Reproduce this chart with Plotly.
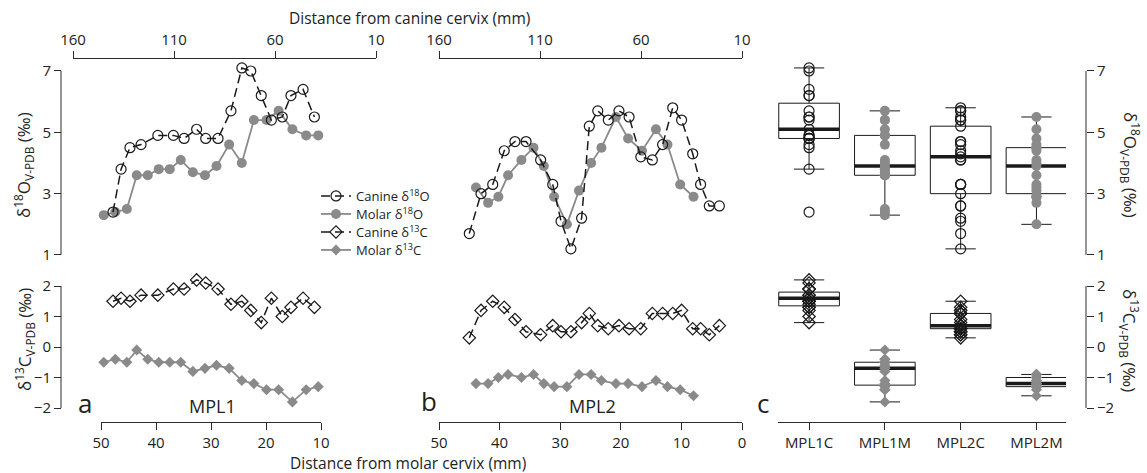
import numpy as np
import plotly.graph_objects as go

# ---------------- data ----------------
# MPL1
canine_mm_1 = [140.2, 136.2, 131.8, 126.3, 118.0, 110.3, 105.0, 98.8, 94.3, 88.2,
               81.8, 76.4, 72.0, 66.8, 61.8, 56.4, 52.1, 46.1, 40.5]
canine_d18O_1 = [2.4, 3.8, 4.5, 4.6, 4.9, 4.9, 4.8, 5.1, 4.8, 4.8,
                 5.7, 7.1, 7.0, 6.2, 5.4, 5.5, 6.2, 6.4, 5.5]
canine_d13C_1 = [1.5, 1.6, 1.5, 1.7, 1.7, 1.9, 1.9, 2.2, 2.1, 1.9,
                 1.4, 1.5, 1.2, 0.8, 1.6, 1.0, 1.3, 1.6, 1.3]
molar_mm_1 = [49.5, 47.4, 45.3, 43.5, 41.5, 39.5, 37.5, 35.5, 33.3, 31.1,
              29.0, 26.7, 24.4, 22.2, 19.9, 17.7, 15.2, 12.7, 10.5]
molar_d18O_1 = [2.3, 2.4, 2.5, 3.6, 3.6, 3.8, 3.8, 4.1, 3.7, 3.6,
                3.9, 4.6, 4.0, 5.4, 5.4, 5.7, 5.1, 4.9, 4.9]
molar_d13C_1 = [-0.5, -0.4, -0.5, -0.1, -0.4, -0.5, -0.5, -0.5, -0.8, -0.7,
                -0.6, -0.7, -1.1, -1.2, -1.4, -1.4, -1.8, -1.4, -1.3]

# MPL2
canine_mm_2 = [145.0, 139.2, 133.4, 127.7, 122.4, 116.9, 109.7, 103.7, 99.6, 94.7,
               89.4, 85.6, 81.4, 76.2, 70.9, 65.9, 60.1, 54.4, 49.3, 44.3,
               39.9, 34.4, 30.5, 26.2, 21.2]
canine_d18O_2 = [1.7, 3.0, 3.3, 4.4, 4.7, 4.7, 4.1, 3.3, 2.1, 1.2,
                 2.2, 5.2, 5.7, 5.4, 5.7, 5.5, 4.2, 4.1, 4.6, 5.8,
                 5.4, 4.3, 3.3, 2.6, 2.6]
canine_d13C_2 = [0.3, 1.2, 1.5, 1.3, 0.9, 0.5, 0.4, 0.7, 0.5, 0.5,
                 0.8, 1.1, 0.7, 0.6, 0.7, 0.6, 0.6, 1.1, 1.1, 1.1,
                 1.2, 0.6, 0.6, 0.4, 0.7]
molar_mm_2 = [43.9, 41.9, 40.2, 38.6, 36.4, 34.4, 32.7, 31.0, 28.9, 26.9,
              24.9, 23.2, 20.8, 18.8, 16.5, 14.2, 12.3, 10.2, 8.0]
molar_d18O_2 = [3.2, 2.7, 2.9, 3.6, 4.1, 4.5, 3.9, 2.9, 2.0, 3.1,
                4.0, 4.5, 5.5, 4.8, 4.4, 5.1, 4.6, 3.3, 2.9]
molar_d13C_2 = [-1.2, -1.2, -1.0, -0.9, -1.0, -0.9, -1.2, -1.3, -1.3, -0.9,
                -0.9, -1.1, -1.2, -1.2, -1.3, -1.1, -1.3, -1.4, -1.6]

box_labels = ['MPL1C', 'MPL1M', 'MPL2C', 'MPL2M']
canine_ticks = [160, 110, 60, 10]
molar_ticks_1 = [50, 40, 30, 20, 10]
molar_ticks_2 = [50, 40, 30, 20, 10, 0]
d18O_ticks = [1, 3, 5, 7]
d13C_ticks = [-2, -1, 0, 1, 2]

# ---------------- style ----------------
W, H = 1147, 473
def px(x): return x / W
def py(y): return 1 - y / H

BLACK = '#1a1a1a'
AX = '#2b2b2b'
GREY = '#8a8a8a'
FONT = 'Open Sans'

canine_line = dict(color=BLACK, width=1.5, dash='9px,5px')
molar_line = dict(color=GREY, width=1.8)

def canine_marker(sym):
    return dict(symbol=sym + '-open', size=10 if sym == 'circle' else 9.5,
                color=BLACK, line=dict(width=1.2, color=BLACK))

def molar_marker(sym):
    return dict(symbol=sym, size=10 if sym == 'circle' else 8.5, color=GREY,
                line=dict(width=0))

fig = go.Figure()

L18C = 'Canine δ<sup>18</sup>O'
L18M = 'Molar δ<sup>18</sup>O'
L13C = 'Canine δ<sup>13</sup>C'
L13M = 'Molar δ<sup>13</sup>C'

# panel a (legend owners)
fig.add_trace(go.Scatter(x=canine_mm_1, y=canine_d18O_1, xaxis='x2', yaxis='y',
                         mode='lines+markers', line=canine_line, legend='legend',
                         marker=canine_marker('circle'), name=L18C, cliponaxis=False))
fig.add_trace(go.Scatter(x=molar_mm_1, y=molar_d18O_1, xaxis='x', yaxis='y',
                         mode='lines+markers', line=molar_line, legend='legend2',
                         marker=molar_marker('circle'), name=L18M, cliponaxis=False))
fig.add_trace(go.Scatter(x=canine_mm_1, y=canine_d13C_1, xaxis='x2', yaxis='y2',
                         mode='lines+markers', line=canine_line, legend='legend3',
                         marker=canine_marker('diamond'), name=L13C, cliponaxis=False))
fig.add_trace(go.Scatter(x=molar_mm_1, y=molar_d13C_1, xaxis='x', yaxis='y2',
                         mode='lines+markers', line=molar_line, legend='legend4',
                         marker=molar_marker('diamond'), name=L13M, cliponaxis=False))

# panel b
fig.add_trace(go.Scatter(x=molar_mm_2, y=molar_d18O_2, xaxis='x3', yaxis='y',
                         mode='lines+markers', line=molar_line,
                         marker=molar_marker('circle'), showlegend=False, cliponaxis=False))
fig.add_trace(go.Scatter(x=canine_mm_2, y=canine_d18O_2, xaxis='x4', yaxis='y',
                         mode='lines+markers', line=canine_line,
                         marker=canine_marker('circle'), showlegend=False, cliponaxis=False))
fig.add_trace(go.Scatter(x=canine_mm_2, y=canine_d13C_2, xaxis='x4', yaxis='y2',
                         mode='lines+markers', line=canine_line,
                         marker=canine_marker('diamond'), showlegend=False, cliponaxis=False))
fig.add_trace(go.Scatter(x=molar_mm_2, y=molar_d13C_2, xaxis='x3', yaxis='y2',
                         mode='lines+markers', line=molar_line,
                         marker=molar_marker('diamond'), showlegend=False, cliponaxis=False))

# panel c: boxplots with overlaid points
groups = [
    (canine_d18O_1, canine_d13C_1, 'canine'),
    (molar_d18O_1, molar_d13C_1, 'molar'),
    (canine_d18O_2, canine_d13C_2, 'canine'),
    (molar_d18O_2, molar_d13C_2, 'molar'),
]
BOXW = 0.8
for i, (v18, v13, kind) in enumerate(groups):
    pos = i + 1
    for vals, ya, sym in ((v18, 'y3', 'circle'), (v13, 'y4', 'diamond')):
        n = len(vals)
        fig.add_trace(go.Box(x=[pos] * n, y=vals, xaxis='x5', yaxis=ya,
                             width=BOXW, whiskerwidth=0.5, boxpoints='all',
                             jitter=0, pointpos=0, marker=dict(opacity=0),
                             line=dict(color=BLACK, width=1),
                             fillcolor='rgba(0,0,0,0)', quartilemethod='inclusive',
                             showlegend=False, hoverinfo='skip'))
        med = float(np.median(vals))
        fig.add_trace(go.Scatter(x=[pos - BOXW / 2, pos + BOXW / 2], y=[med, med],
                                 xaxis='x5', yaxis=ya, mode='lines',
                                 line=dict(color=BLACK, width=3.5),
                                 showlegend=False, hoverinfo='skip'))
        mk = canine_marker(sym) if kind == 'canine' else molar_marker(sym)
        fig.add_trace(go.Scatter(x=[pos] * n, y=vals, xaxis='x5', yaxis=ya,
                                 mode='markers', marker=mk, showlegend=False,
                                 cliponaxis=False))

# ---------------- axes ----------------
common = dict(showgrid=False, zeroline=False, showline=True, linecolor=AX,
              linewidth=1, ticks='outside', ticklen=7, tickwidth=1, tickcolor=AX,
              tickfont=dict(size=15, color='#222'), fixedrange=True)
ycommon = dict(common, showline=False)

# y scale: value 1 -> 255px, 7 -> 71px ; value -2 -> 408px, 2 -> 286px
R18 = [0.5, 7.5]
R13 = [-2.4, 2.4]
def ypix18(v): return 255 - (v - 1) * (255 - 71) / 6
def ypix13(v): return 408 - (v + 2) * (408 - 286) / 4
DOM18 = [py(ypix18(R18[0])), py(ypix18(R18[1]))]
DOM13 = [py(ypix13(R13[0])), py(ypix13(R13[1]))]

layout_axes = dict(
    xaxis=dict(domain=[px(101), px(321)], range=[50, 10], anchor='free',
               position=py(422), side='bottom', tickvals=molar_ticks_1, **common),
    xaxis2=dict(domain=[px(73), px(376)], range=[160, 10], anchor='free',
                position=py(58), side='top', tickvals=canine_ticks, **common),
    xaxis3=dict(domain=[px(439), px(742)], range=[50, 0], anchor='free',
                position=py(422), side='bottom', tickvals=molar_ticks_2, **common),
    xaxis4=dict(domain=[px(439), px(742)], range=[160, 10], anchor='free',
                position=py(58), side='top', tickvals=canine_ticks, **common),
    xaxis5=dict(domain=[px(778), px(1066)], range=[0.59, 4.39], anchor='free',
                position=py(422), side='bottom', tickvals=[1, 2, 3, 4],
                ticktext=box_labels, **common),
    yaxis=dict(domain=DOM18, range=R18, anchor='free',
               position=px(61), side='left', tickvals=d18O_ticks, **ycommon),
    yaxis2=dict(domain=DOM13, range=R13, anchor='free',
                position=px(61), side='left', tickvals=d13C_ticks, **ycommon),
    yaxis3=dict(domain=DOM18, range=R18, anchor='free',
                position=px(1086), side='right', tickvals=d18O_ticks, **ycommon),
    yaxis4=dict(domain=DOM13, range=R13, anchor='free',
                position=px(1086), side='right', tickvals=d13C_ticks, **ycommon),
)

# axis lines spanning first to last tick (R style)
shapes = []
for xpos, ya, ticks in ((61, 'y', d18O_ticks), (61, 'y2', d13C_ticks),
                        (1086, 'y3', d18O_ticks), (1086, 'y4', d13C_ticks)):
    shapes.append(dict(type='line', xref='paper', yref=ya, x0=px(xpos), x1=px(xpos),
                       y0=min(ticks), y1=max(ticks), line=dict(color=AX, width=1)))

TXT = dict(family=FONT, color='#222')
ann = []
def add_text(text, x, y, size, angle=0, anchor='center'):
    ann.append(dict(text=text, x=px(x), y=py(y), xref='paper', yref='paper',
                    showarrow=False, textangle=angle, xanchor=anchor, yanchor='middle',
                    font=dict(size=size, **TXT)))

add_text('Distance from canine cervix (mm)', 410, 18, 15.5)
add_text('Distance from molar cervix (mm)', 408, 463, 15.5)
add_text('a', 85, 403, 26)
add_text('MPL1', 187, 406, 18, anchor='left')
add_text('b', 429, 401, 26)
add_text('MPL2', 567, 406, 18, anchor='left')
add_text('c', 763, 403, 26)
T18 = 'δ<sup>18</sup>O<sub>V-PDB</sub> (‰)'
T13 = 'δ<sup>13</sup>C<sub>V-PDB</sub> (‰)'
add_text(T18, 24, 165, 17, -90)
add_text(T13, 24, 340, 17, -90)
add_text(T18, 1130, 165, 17, 90)
add_text(T13, 1130, 340, 17, 90)

legends = {}
for k, yrow in zip(['legend', 'legend2', 'legend3', 'legend4'], [196, 214, 232, 250]):
    legends[k] = dict(x=px(316), y=py(yrow), xanchor='left', yanchor='middle',
                      bgcolor='rgba(0,0,0,0)', font=dict(size=13, family=FONT, color='#222'),
                      itemwidth=30, borderwidth=0)

fig.update_layout(
    width=W, height=H, margin=dict(l=0, r=0, t=0, b=0, pad=0, autoexpand=False),
    paper_bgcolor='white', plot_bgcolor='rgba(0,0,0,0)',
    font=dict(family=FONT, size=14, color='#222'),
    showlegend=True,
    boxmode='overlay',
    annotations=ann,
    shapes=shapes,
    **legends,
    **layout_axes,
)

fig.write_html('out.html')
